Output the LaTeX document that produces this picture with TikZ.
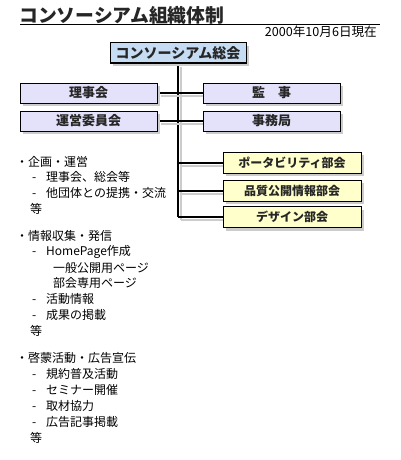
\documentclass[tikz,border=0pt]{standalone}
\usepackage{fontspec}
\setmainfont{Noto Sans CJK JP}
\usetikzlibrary{shadows,backgrounds}
\definecolor{topblue}{HTML}{C6DCF2}
\definecolor{lav}{HTML}{E4E2FB}
\definecolor{yel}{HTML}{FFFFCC}
\definecolor{shd}{HTML}{CCCCCC}
\begin{document}
\begin{tikzpicture}[x=1pt,y=-1pt,
  boxbase/.style={draw=black, line width=1pt, inner sep=0pt, text=black!85,
    general shadow={fill=shd, shadow xshift=3pt, shadow yshift=-3pt}},
  topbox/.style={boxbase, fill=topblue, minimum width=136pt, minimum height=20pt, font=\fontsize{14}{16}\selectfont\bfseries},
  lavbox/.style={boxbase, fill=lav, minimum width=137pt, minimum height=20pt, font=\fontsize{13}{15}\selectfont\bfseries},
  yelbox/.style={boxbase, fill=yel, minimum width=138pt, minimum height=21pt, font=\fontsize{12}{14}\selectfont\bfseries},
  conn/.style={line width=2pt, preaction={draw=shd, line width=2pt, transform canvas={xshift=3pt,yshift=-3pt}}},
  listtxt/.style={anchor=west, inner sep=0pt, font=\fontsize{12}{14}\selectfont}
]
\useasboundingbox (0,0) rectangle (400,460);

% title
\node[anchor=west, inner sep=0pt, font=\fontsize{18.8}{20}\selectfont\bfseries, text=black!85] (title) at (19,15.5) {コンソーシアム組織体制};
\coordinate (ruleL) at (20,25);
\coordinate (ruleR) at (380,25);
\draw[line width=1pt] (ruleL) -- (ruleR);
\node[anchor=east, inner sep=0pt, font=\fontsize{12.6}{14}\selectfont] (date) at (377,32) {2000年10月6日現在};

% boxes
\node[topbox] (top) at (178,53) {コンソーシアム総会};
\node[lavbox] (riji) at (88.5,93) {理事会};
\node[lavbox] (unei) at (88.5,121) {運営委員会};
\node[lavbox] (kanji) at (271.5,93) {監\hspace{1em}事};
\node[lavbox] (jimu) at (271.5,121) {事務局};
\node[yelbox] (port) at (292,162.5) {ポータビリティ部会};
\node[yelbox] (hinshitsu) at (292,190.5) {品質公開情報部会};
\node[yelbox] (design) at (292,217) {デザイン部会};

% connectors (behind the boxes)
\coordinate (trunkEnd) at (top.south |- design.west);
\begin{scope}[on background layer]
\fill[white] (0,0) rectangle (400,460);
\draw[conn] (top.south) -- (trunkEnd);
\draw[conn] (riji.east) -- (kanji.west);
\draw[conn] (unei.east) -- (jimu.west);
\draw[conn] (top.south |- port.west) -- (port.west);
\draw[conn] (top.south |- hinshitsu.west) -- (hinshitsu.west);
\draw[conn] (trunkEnd) -- (design.west);
\end{scope}

% lists
\node[listtxt] (a1) at (16,161.7) {・企画・運営};
\node[listtxt] (a2) at (32,177.4) {\makebox[14pt][l]{-}理事会、総会等};
\node[listtxt] (a3) at (32,193.1) {\makebox[14pt][l]{-}他団体との提携・交流};
\node[listtxt] (a4) at (30,208.8) {等};

\node[listtxt] (b1) at (16,235.7) {・情報収集・発信};
\node[listtxt] (b2) at (32,251.6) {\makebox[14pt][l]{-}HomePage作成};
\node[listtxt] (b3) at (53,267.5) {一般公開用ページ};
\node[listtxt] (b4) at (53,283.4) {部会専用ページ};
\node[listtxt] (b5) at (32,299.3) {\makebox[14pt][l]{-}活動情報};
\node[listtxt] (b6) at (32,315.2) {\makebox[14pt][l]{-}成果の掲載};
\node[listtxt] (b7) at (30,331) {等};

\node[listtxt] (c1) at (16,358.3) {・啓蒙活動・広告宣伝};
\node[listtxt] (c2) at (32,374.3) {\makebox[14pt][l]{-}規約普及活動};
\node[listtxt] (c3) at (32,390.3) {\makebox[14pt][l]{-}セミナー開催};
\node[listtxt] (c4) at (32,406.3) {\makebox[14pt][l]{-}取材協力};
\node[listtxt] (c5) at (32,422.3) {\makebox[14pt][l]{-}広告記事掲載};
\node[listtxt] (c6) at (30,438.3) {等};
\end{tikzpicture}
\end{document}
